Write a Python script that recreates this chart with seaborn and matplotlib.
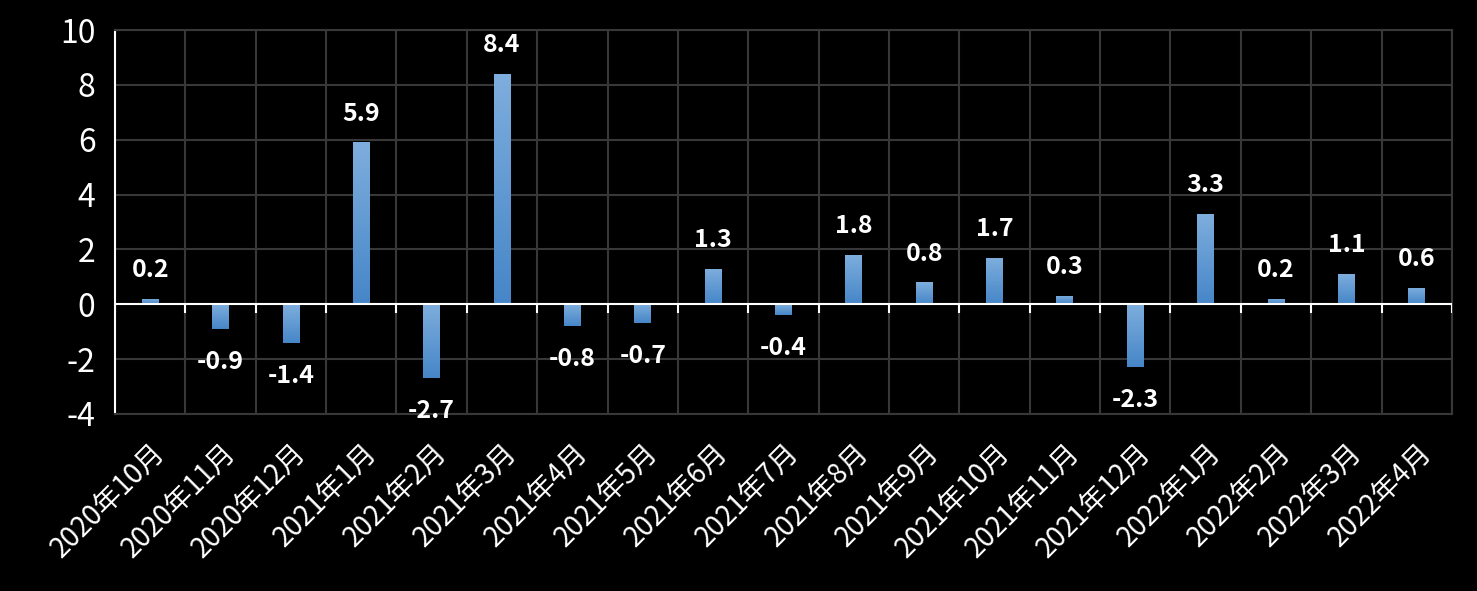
import numpy as np
import pandas as pd
import matplotlib
matplotlib.use("Agg")
import matplotlib.pyplot as plt
import seaborn as sns
from matplotlib.colors import LinearSegmentedColormap

months = ["2020年10月", "2020年11月", "2020年12月", "2021年1月", "2021年2月", "2021年3月",
          "2021年4月", "2021年5月", "2021年6月", "2021年7月", "2021年8月", "2021年9月",
          "2021年10月", "2021年11月", "2021年12月", "2022年1月", "2022年2月", "2022年3月",
          "2022年4月"]
values = [0.2, -0.9, -1.4, 5.9, -2.7, 8.4, -0.8, -0.7, 1.3, -0.4, 1.8, 0.8, 1.7, 0.3,
          -2.3, 3.3, 0.2, 1.1, 0.6]
y_ticks = [-4, -2, 0, 2, 4, 6, 8, 10]

sns.set_theme(style="dark")
plt.rcParams['font.family'] = ['Noto Sans CJK SC', 'DejaVu Sans']

df = pd.DataFrame({"month": months, "value": values})

fig = plt.figure(figsize=(14.77, 5.91), dpi=100, facecolor="black")
ax = fig.add_axes([0.0779, 0.2995, 0.9051, 0.6497])
ax.set_facecolor("black")

sns.barplot(data=df, x="month", y="value", color="#5b9bd5", width=0.24,
            saturation=1, ax=ax, zorder=3, linewidth=0, edgecolor="none")

# gradient fill on bars
grad = np.linspace(0, 1, 100).reshape(-1, 1)
cmap = LinearSegmentedColormap.from_list("g", ["#4686c8", "#7eaedd"])
for p in ax.patches:
    x0, y0 = p.get_x(), p.get_y()
    w, h = p.get_width(), p.get_height()
    lo, hi = min(y0, y0 + h), max(y0, y0 + h)
    img = ax.imshow(grad, extent=[x0, x0 + w, lo, hi], origin="lower", cmap=cmap,
                    aspect="auto", zorder=4)
    img.set_clip_path(p)

n = len(months)
ax.set_xlim(-0.5, n - 0.5)
ax.set_ylim(y_ticks[0], y_ticks[-1])
ax.set_yticks(y_ticks)
ax.set_yticklabels([str(t) for t in y_ticks], color="white", fontsize=23,
                   family=['Noto Sans CJK SC', 'DejaVu Sans'])

ax.set_xticks(range(n))
ax.set_xticklabels(months, rotation=45, ha="right", va="top", rotation_mode="anchor",
                   color="white", fontsize=20)
ax.set_xticks(np.arange(n + 1) - 0.5, minor=True)
ax.tick_params(axis="x", which="major", length=0, pad=17)
ax.tick_params(axis="x", which="minor", length=0)
ax.tick_params(axis="y", length=0, pad=14)

ax.grid(False)
ax.yaxis.grid(True, color="#383838", linewidth=1.5, zorder=0)
ax.xaxis.grid(True, which="minor", color="#383838", linewidth=1.5, zorder=0)
ax.set_axisbelow(True)

for side in ["top", "right", "bottom"]:
    ax.spines[side].set_color("#383838")
    ax.spines[side].set_linewidth(1.5)
    ax.spines[side].set_visible(True)
ax.spines["left"].set_color("white")
ax.spines["left"].set_linewidth(1.5)
ax.spines["left"].set_visible(True)

# zero line with small ticks
ax.axhline(0, color="white", linewidth=1.5, zorder=5)
ax.vlines(np.arange(n + 1) - 0.5, -0.3, 0, color="white", linewidth=1.5, zorder=5)

ax.set_xlabel("")
ax.set_ylabel("")

for i, v in enumerate(values):
    off = 1.05 if v >= 0 else -1.2
    ax.text(i, v + off, f"{v:.1f}", ha="center", va="center", color="white",
            fontsize=18, fontweight="bold", zorder=6,
            family=['Noto Sans CJK SC', 'DejaVu Sans'])

fig.savefig("out.png", dpi=100, facecolor="black")
